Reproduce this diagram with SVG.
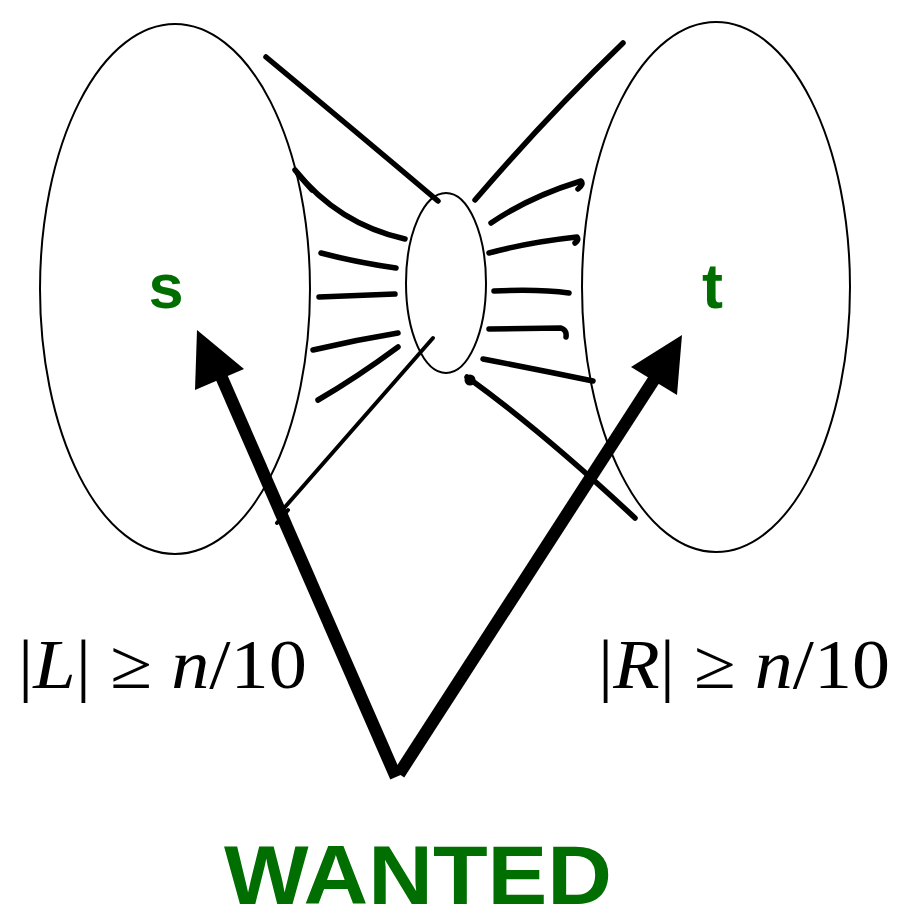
<svg xmlns="http://www.w3.org/2000/svg" width="897" height="921" viewBox="0 0 897 921">
<style>
.outline{fill:none;stroke:#000;stroke-width:2}
.hatch{fill:none;stroke:#000;stroke-width:5.5;stroke-linecap:round;stroke-linejoin:round}
.thin{fill:none;stroke:#000;stroke-width:4;stroke-linecap:round}
.shaft{fill:none;stroke:#000;stroke-width:12.5;stroke-linecap:butt}
.head{fill:#000}
.lbl{font-family:"Liberation Sans",Arial,sans-serif;font-weight:bold;fill:#006e00}
.math{font-family:"Liberation Serif","Times New Roman",serif;fill:#000}
</style>
<rect width="897" height="921" fill="#fff"/>
<g id="node-left">
<ellipse class="outline" cx="175" cy="289" rx="135" ry="265"/>
<text class="lbl" x="166" y="308" font-size="63" text-anchor="middle">s</text>
</g>
<g id="node-right">
<ellipse class="outline" cx="716" cy="287" rx="134" ry="265"/>
<text class="lbl" x="712.5" y="308" font-size="63" text-anchor="middle">t</text>
</g>
<g id="node-middle">
<ellipse class="outline" cx="446" cy="283" rx="40" ry="90"/>
</g>
<g id="connectors">
<path class="hatch" d="M266,57 Q348,125 438,201"/>
<path class="hatch" d="M295,170 Q338,224 405,239"/>
<path class="hatch" d="M298,174 L312,190" stroke-width="8"/>
<path class="hatch" d="M321,253 Q355,262 396,268"/>
<path class="hatch" d="M319,297 L395,294"/>
<path class="hatch" d="M313,350 Q355,340 398,333"/>
<path class="hatch" d="M318,400 Q356,378 398,347"/>
<path class="thin" d="M433,338 L285,507"/>
<path class="thin" d="M277,523 L288,510"/>
<path class="hatch" d="M623,43 Q547,116 475,200"/>
<path class="hatch" d="M491,223 Q529,197 581,181 Q584,184 578,189"/>
<path class="hatch" d="M489,253 Q530,242 577,237 Q579,240 575,243"/>
<path class="hatch" d="M494,291 Q540,289 569,293"/>
<path class="hatch" d="M489,329 L561,328 Q567,330 566,337"/>
<path class="hatch" d="M483,359 Q540,370 593,381"/>
<path class="hatch" d="M467,377 Q543,432 635,518"/>
<circle cx="470" cy="380" r="5.5"/>
<line class="shaft" x1="396" y1="777" x2="221" y2="376"/>
<polygon class="head" points="197,330 244,369 195,390"/>
<line class="shaft" x1="399" y1="774" x2="655" y2="378"/>
<polygon class="head" points="682,335 677,395 631,367"/>
</g>
<g id="labels">
<text class="math" x="18" y="688" font-size="70" textLength="289" lengthAdjust="spacingAndGlyphs">|<tspan font-style="italic">L</tspan>| ≥ <tspan font-style="italic">n</tspan>/10</text>
<text class="math" x="598" y="688" font-size="70" textLength="292" lengthAdjust="spacingAndGlyphs">|<tspan font-style="italic">R</tspan>| ≥ <tspan font-style="italic">n</tspan>/10</text>
<text class="lbl" x="224" y="904" font-size="84" textLength="388" lengthAdjust="spacingAndGlyphs">WANTED</text>
</g>
</svg>
